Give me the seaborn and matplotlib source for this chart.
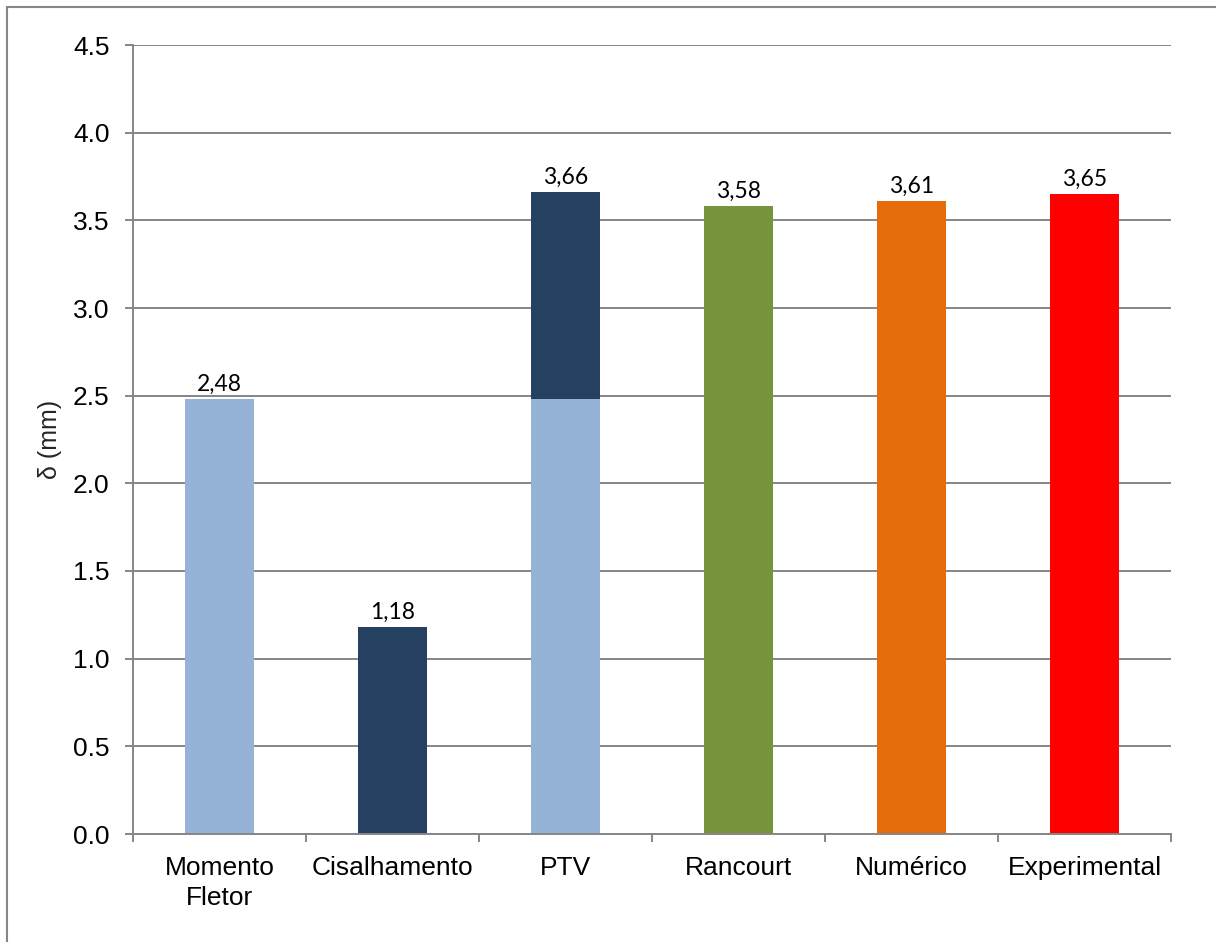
import matplotlib
matplotlib.use("Agg")
import matplotlib.pyplot as plt
from matplotlib.patches import Rectangle
from matplotlib.ticker import FixedLocator, FormatStrFormatter, MultipleLocator
import pandas as pd
import seaborn as sns

# Deflection estimates (mm) for each method
categories = ["Momento\nFletor", "Cisalhamento", "PTV", "Rancourt", "Numérico", "Experimental"]
totals = [2.48, 1.18, 3.66, 3.58, 3.61, 3.65]
bar_colors = ["#95B3D7", "#254061", "#254061", "#77933C", "#E46C0A", "#FF0000"]
# PTV combines the bending and shear parts; the bending part is drawn on top of the total
ptv_bending = 2.48
bending_color = "#95B3D7"

y_ticks = [0.0, 0.5, 1.0, 1.5, 2.0, 2.5, 3.0, 3.5, 4.0, 4.5]

sns.set_theme(style="white")
plt.rcParams["font.family"] = ["Liberation Sans", "DejaVu Sans"]

grey = "#868686"

fig = plt.figure(figsize=(12.16, 9.42), dpi=100)
ax = fig.add_axes([133 / 1216, 1 - 834 / 942, (1171 - 133) / 1216, (834 - 45) / 942])

df = pd.DataFrame({"method": categories, "delta": totals})
sns.barplot(data=df, x="method", y="delta", hue="method", order=categories,
            palette=dict(zip(categories, bar_colors)), width=0.4, saturation=1,
            dodge=False, legend=False, ax=ax, zorder=3, linewidth=0)

base = pd.DataFrame({"method": ["PTV"], "delta": [ptv_bending]})
sns.barplot(data=base, x="method", y="delta", order=categories, color=bending_color,
            width=0.4, saturation=1, ax=ax, zorder=4, linewidth=0)

# value labels with comma decimal separator
for i, v in enumerate(totals):
    ax.annotate(f"{v:.2f}".replace(".", ","), xy=(i, v), xytext=(0, 3),
                textcoords="offset points", ha="center", va="bottom",
                fontsize=16.5, family=["Lato", "DejaVu Sans"], color="black", zorder=5)

ax.set_xlim(-0.5, len(categories) - 0.5)
ax.set_ylim(0, 4.5)
ax.yaxis.set_major_locator(FixedLocator(y_ticks))
ax.yaxis.set_major_formatter(FormatStrFormatter("%.1f"))
ax.grid(axis="y", color=grey, linewidth=1.4, zorder=0)
ax.set_axisbelow(True)

for side in ["top", "right"]:
    ax.spines[side].set_visible(False)
for side in ["left", "bottom"]:
    ax.spines[side].set_color(grey)
    ax.spines[side].set_linewidth(1.4)
    ax.spines[side].set_zorder(6)

ax.tick_params(axis="y", which="major", direction="out", length=6, width=1.4,
               color=grey, labelsize=19, pad=11, left=True)
ax.tick_params(axis="x", which="major", length=0, labelsize=19, pad=16)
ax.xaxis.set_minor_locator(MultipleLocator(1, offset=0.5))
ax.tick_params(axis="x", which="minor", direction="out", length=5.5, width=1.4,
               color=grey, bottom=True)
ax.set_xticks(range(len(categories)))
ax.set_xticklabels(categories, linespacing=1.3)
ax.set_xlabel("")
ax.set_ylabel("δ (mm)", fontsize=18)
ax.yaxis.set_label_coords(-0.068, 0.5)
for lab in ax.get_xticklabels() + ax.get_yticklabels():
    lab.set_color("black")

# chart-area frame
fig.patches.append(Rectangle((7 / 1216, -0.2), 1.5, 1.2 - 7 / 942,
                             transform=fig.transFigure, fill=False,
                             edgecolor=grey, linewidth=1.5))

fig.savefig("out.png", dpi=100, facecolor="white")
